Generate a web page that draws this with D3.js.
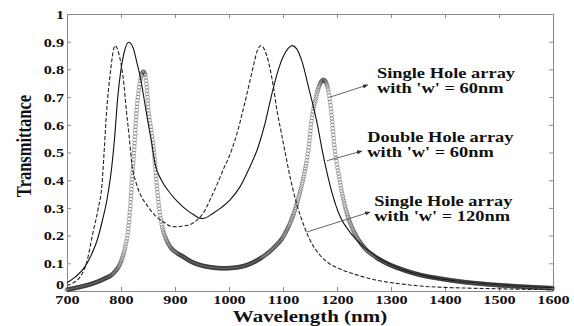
<!DOCTYPE html>
<html>
<head>
<meta charset="utf-8">
<script src="https://cdn.jsdelivr.net/npm/d3@7"></script>
<style>
body { margin: 0; background: #fff; }
text { font-family: "Liberation Serif", "Times New Roman", serif; font-weight: bold; fill: #111; }
</style>
</head>
<body>
<script>
// Single Hole array, w = 120nm (dashed)
var dashWl = [700,712,724,736,748,757,765,769,773,777,781,785,789,793,798,804,810,815,820,828,838,848,862,878,896,912,928,943,955,965,978,989,998,1006,1015,1025,1033,1039,1046,1052,1059,1066,1074,1082,1089,1097,1104,1110,1118,1126,1138,1150,1166,1185,1205,1230,1260,1293,1325,1354,1400,1450,1500,1550,1600];
var dashT  = [0.02,0.03,0.05,0.10,0.21,0.29,0.39,0.51,0.64,0.73,0.80,0.86,0.886,0.875,0.84,0.77,0.65,0.56,0.46,0.39,0.34,0.31,0.275,0.25,0.232,0.234,0.24,0.26,0.29,0.33,0.385,0.437,0.475,0.515,0.57,0.645,0.71,0.76,0.82,0.865,0.886,0.87,0.82,0.74,0.65,0.57,0.50,0.44,0.37,0.31,0.24,0.184,0.135,0.10,0.08,0.062,0.045,0.032,0.024,0.018,0.013,0.01,0.008,0.006,0.005];

// Double Hole array, w = 60nm (solid)
var solidWl = [700,715,733,745,756,765,774,783,788,794,800,807,814,822,830,836,841,849,857,863,875,891,906,922,935,946,952,970,985,1002,1020,1036,1054,1066,1078,1090,1100,1110,1117,1125,1135,1148,1162,1175,1190,1206,1225,1249,1280,1323,1370,1422,1480,1540,1600];
var solidT  = [0.03,0.05,0.087,0.13,0.184,0.25,0.33,0.45,0.55,0.70,0.80,0.87,0.898,0.88,0.82,0.77,0.714,0.62,0.533,0.46,0.40,0.353,0.32,0.292,0.275,0.263,0.262,0.28,0.30,0.329,0.375,0.437,0.52,0.60,0.70,0.79,0.845,0.877,0.886,0.875,0.83,0.73,0.617,0.485,0.36,0.268,0.21,0.16,0.115,0.076,0.052,0.036,0.025,0.017,0.012];

// Single Hole array, w = 60nm (circle markers)
var circWl = [700,725,749,770,786,801,808,814,817,820,824,829,834,838,841,845,848,851,856,860,866,870,875,882,891,903,915,930,946,965,989,1010,1035,1063,1085,1100,1107,1120,1131,1140,1147,1153,1160,1167,1175,1182,1188,1196,1204,1212,1220,1230,1249,1270,1292,1320,1354,1390,1428,1480,1540,1600];
var circT  = [0.005,0.015,0.028,0.045,0.064,0.112,0.16,0.232,0.30,0.389,0.50,0.653,0.74,0.78,0.792,0.78,0.73,0.653,0.58,0.521,0.389,0.31,0.244,0.195,0.16,0.138,0.124,0.106,0.094,0.086,0.082,0.084,0.095,0.124,0.16,0.195,0.22,0.28,0.353,0.43,0.509,0.617,0.69,0.74,0.762,0.74,0.67,0.509,0.41,0.329,0.27,0.22,0.16,0.125,0.10,0.078,0.058,0.045,0.034,0.024,0.016,0.01];

var xTicks = [700,800,900,1000,1100,1200,1300,1400,1500,1600];
var yTicks = [0,0.1,0.2,0.3,0.4,0.5,0.6,0.7,0.8,0.9,1];

// annotations: arrow tail on curve, arrow head, label lines
var annoFrom  = [[1187,0.70],[1181,0.47],[1144,0.213]];
var annoTo    = [[1257,0.744],[1246,0.505],[1261,0.285]];
var annoAt    = [[1274,0.769],[1256,0.539],[1269,0.308]];
var annoLines = [["Single Hole array","with 'w' = 60nm"],
                 ["Double Hole array","with 'w' = 60nm"],
                 ["Single Hole array","with 'w' = 120nm"]];

var margin = {top: 14, right: 21, bottom: 35, left: 67},
    width = 574 - margin.left - margin.right,
    height = 326 - margin.top - margin.bottom;

var svg = d3.select("body").append("svg")
    .attr("width", 574)
    .attr("height", 326);

svg.append("defs").append("marker")
    .attr("id", "head")
    .attr("viewBox", "0 0 10 10")
    .attr("refX", 9).attr("refY", 5)
    .attr("markerWidth", 6).attr("markerHeight", 6)
    .attr("orient", "auto")
  .append("path")
    .attr("d", "M0,1L10,5L0,9Z")
    .attr("fill", "#333");

var g = svg.append("g")
    .attr("transform", "translate(" + margin.left + "," + margin.top + ")");

var x = d3.scaleLinear().domain([700, 1600]).range([0, width]);
var y = d3.scaleLinear().domain([0, 1]).range([height, 0]);

// stretch text sideways like the scanned original
function stretch(sel, k) {
    sel.each(function() {
        var w = this.getComputedTextLength();
        d3.select(this).attr("textLength", w * k).attr("lengthAdjust", "spacingAndGlyphs");
    });
}

// axes box with inward ticks
var xb = g.append("g").attr("transform", "translate(0," + height + ")")
    .call(d3.axisBottom(x).tickValues(xTicks).tickSize(-4).tickSizeOuter(0).tickPadding(3).tickFormat(d3.format("d")));
var yl = g.append("g")
    .call(d3.axisLeft(y).tickValues(yTicks).tickSize(-4).tickSizeOuter(0).tickPadding(3).tickFormat(function(d) { return d === 0 || d === 1 ? d : d3.format(".1f")(d); }));
g.append("g")
    .call(d3.axisTop(x).tickValues(xTicks).tickSize(-4).tickSizeOuter(0).tickFormat(""));
g.append("g").attr("transform", "translate(" + width + ",0)")
    .call(d3.axisRight(y).tickValues(yTicks).tickSize(-4).tickSizeOuter(0).tickFormat(""));

g.selectAll(".domain, .tick line").attr("stroke", "#8a8a8a");
g.selectAll(".tick text").attr("font-size", 13.5).attr("fill", "#111")
    .style("font-family", "'Liberation Serif', serif").style("font-weight", "bold");
// the "0" sits just above the "700" in the corner
yl.selectAll(".tick text").filter(function(d) { return d === 0; }).attr("dy", "-0.15em");
stretch(xb.selectAll(".tick text"), 1.2);
stretch(yl.selectAll(".tick text"), 1.2);

var line = d3.line()
    .x(function(d) { return x(d[0]); })
    .y(function(d) { return y(d[1]); })
    .curve(d3.curveMonotoneX);

function pairs(a, b) { return a.map(function(v, i) { return [v, b[i]]; }); }

// dashed curve
g.append("path")
    .attr("d", line(pairs(dashWl, dashT)))
    .attr("fill", "none").attr("stroke", "#222").attr("stroke-width", 1.1)
    .attr("stroke-dasharray", "4,2");

// solid curve
g.append("path")
    .attr("d", line(pairs(solidWl, solidT)))
    .attr("fill", "none").attr("stroke", "#111").attr("stroke-width", 1.1);

// circle-marker curve
var circPath = g.append("path")
    .attr("d", line(pairs(circWl, circT)))
    .attr("fill", "none").attr("stroke", "none");

var node = circPath.node(), len = node.getTotalLength(), marks = [], last = null;
for (var s = 0; s <= len; s += 0.3) {
    var p = node.getPointAtLength(s);
    if (!last || Math.abs(p.x - last.x) >= 0.5 || Math.hypot(p.x - last.x, p.y - last.y) >= 3.2) {
        marks.push(p);
        last = p;
    }
}
g.selectAll(".mk").data(marks).enter().append("circle")
    .attr("class", "mk")
    .attr("cx", function(d) { return d.x; })
    .attr("cy", function(d) { return d.y; })
    .attr("r", 1.9)
    .attr("fill", "none")
    .attr("stroke", "#222")
    .attr("stroke-opacity", 0.45)
    .attr("stroke-width", 0.8);

// annotations
for (var i = 0; i < annoLines.length; i++) {
    g.append("line")
        .attr("x1", x(annoFrom[i][0])).attr("y1", y(annoFrom[i][1]))
        .attr("x2", x(annoTo[i][0])).attr("y2", y(annoTo[i][1]))
        .attr("stroke", "#555").attr("stroke-width", 0.9)
        .attr("marker-end", "url(#head)");
    var t = g.append("g");
    annoLines[i].forEach(function(txt, j) {
        t.append("text")
            .attr("x", x(annoAt[i][0]))
            .attr("y", y(annoAt[i][1]) + j * 15.5)
            .attr("font-size", 14.5)
            .text(txt);
    });
    stretch(t.selectAll("text"), 1.27);
}

// axis titles
var xt = svg.append("text")
    .attr("x", margin.left + width / 2)
    .attr("y", 322)
    .attr("text-anchor", "middle")
    .attr("font-size", 16.5)
    .text("Wavelength (nm)");
stretch(xt, 1.27);

svg.append("text")
    .attr("transform", "translate(31,146) scale(1.3,1) rotate(-90)")
    .attr("text-anchor", "middle")
    .attr("font-size", 16.5)
    .text("Transmittance");
</script>
</body>
</html>
